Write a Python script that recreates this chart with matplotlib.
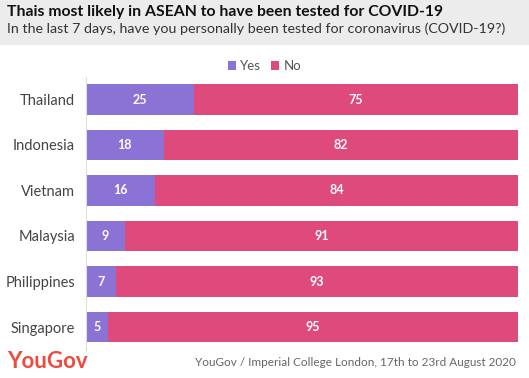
import matplotlib
matplotlib.use("Agg")
from matplotlib import pyplot as plt
from matplotlib.patches import Rectangle

# data
countries = ["Thailand", "Indonesia", "Vietnam", "Malaysia", "Philippines", "Singapore"]
yes_vals = [25, 18, 16, 9, 7, 5]
no_vals = [75, 82, 84, 91, 93, 95]

title = "Thais most likely in ASEAN to have been tested for COVID-19"
subtitle = "In the last 7 days, have you personally been tested for coronavirus (COVID-19?)"
source = "YouGov / Imperial College London, 17th to 23rd August 2020"

yes_col = "#8b72d5"
no_col = "#df4a7d"

plt.rcParams["font.family"] = ["Lato", "DejaVu Sans"]

W, H = 529, 378
fig = plt.figure(figsize=(W / 100, H / 100), dpi=100)

# grey header band
fig.patches.append(Rectangle((0, 1 - 44 / H), 1, 44 / H, transform=fig.transFigure,
                             color="#ececec", zorder=0))
fig.text(7 / W, 1 - 12 / H, title, fontsize=11.3, fontweight="bold", color="#111111", va="center")
fig.text(7 / W, 1 - 29 / H, subtitle, fontsize=10.3, color="#333333", va="center")

ax = fig.add_axes([86 / W, 1 - 349.75 / H, (518 - 86) / W, 273 / H])
y = list(range(len(countries)))
b1 = ax.barh(y, yes_vals, height=0.66, color=yes_col, label="Yes")
b2 = ax.barh(y, no_vals, left=yes_vals, height=0.66, color=no_col, label="No")

for i in y:
    ax.text(yes_vals[i] / 2, i, str(yes_vals[i]), ha="center", va="center",
            color="white", fontsize=9, fontweight="bold")
    ax.text(yes_vals[i] + no_vals[i] / 2, i, str(no_vals[i]), ha="center", va="center",
            color="white", fontsize=9, fontweight="bold")

ax.set_xlim(0, 100)
ax.set_ylim(len(countries) - 0.5, -0.5)
ax.set_yticks(y)
ax.set_yticklabels(countries, fontsize=10.5, color="#444444")
ax.set_xticks([])
ax.tick_params(axis="y", length=0, pad=8)
for s in ["top", "right", "bottom"]:
    ax.spines[s].set_visible(False)
ax.spines["left"].set_color("#dddddd")

fig.legend(handles=[b1, b2], loc="center", bbox_to_anchor=(0.5, 1 - 66 / H), ncol=2,
           frameon=False, fontsize=9.5, handlelength=0.6, handleheight=0.6,
           handletextpad=0.3, columnspacing=0.8, labelcolor="#555555")

fig.text(7 / W, 1 - 361 / H, "YouGov", fontsize=16, fontweight="bold", color="#f0493f", va="center")
fig.text(516 / W, 1 - 362 / H, source, fontsize=8.5, color="#666666", ha="right", va="center")

fig.savefig("out.png", dpi=100)
